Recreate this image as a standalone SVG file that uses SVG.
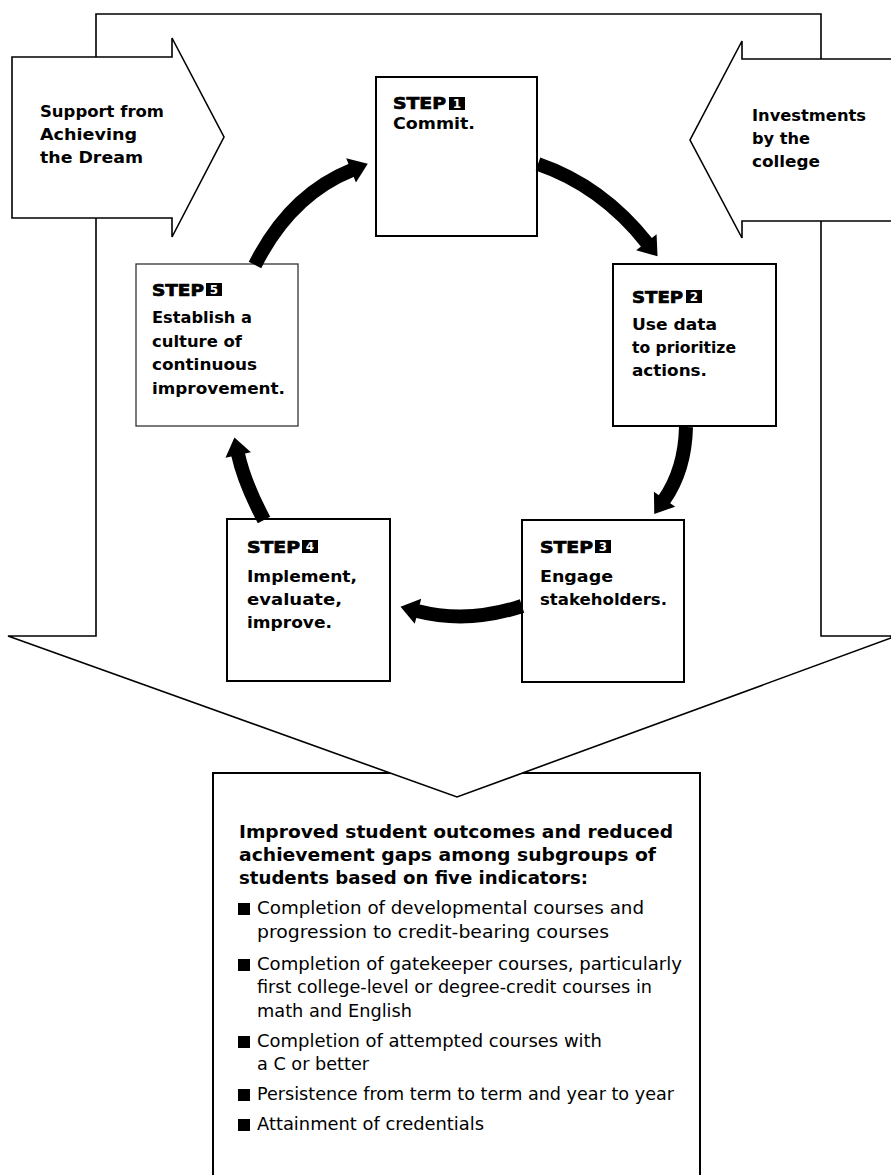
<svg xmlns="http://www.w3.org/2000/svg" width="891" height="1175" viewBox="0 0 891 1175">
<style>
.shape{fill:#fff;stroke:#000;stroke-width:1.6;stroke-linejoin:miter}
.box{fill:#fff;stroke:#000;stroke-width:2}
.box5{fill:#fff;stroke:#333;stroke-width:1.3}
.side{font-family:"DejaVu Sans",sans-serif;font-weight:bold;font-size:16px;fill:#000}
.step{font-family:"DejaVu Sans",sans-serif;font-weight:bold;font-size:16px;fill:#000;stroke:#000;stroke-width:0.7}
.num{font-family:"DejaVu Sans",sans-serif;font-weight:bold;font-size:12px;fill:#fff;text-anchor:middle}
.body{font-family:"DejaVu Sans",sans-serif;font-weight:bold;font-size:16px;fill:#000}
.head{font-family:"DejaVu Sans",sans-serif;font-weight:bold;font-size:18.5px;fill:#000}
.item{font-family:"DejaVu Sans",sans-serif;font-size:17px;fill:#000}
.conn{fill:none;stroke:#000;stroke-width:14;marker-end:url(#ah)}
</style>
<defs>
<marker id="ah" markerUnits="userSpaceOnUse" viewBox="0 0 18 26" markerWidth="18" markerHeight="26" refX="1" refY="13" orient="auto" overflow="visible">
<path d="M0,0 L18,13 L0,26 Z" fill="#000"/>
</marker>
</defs>
<rect width="891" height="1175" fill="#fff"/>

<g id="outcomes">
<rect class="box" x="213" y="773" width="487" height="420"/>
<text class="head" x="239" y="838" textLength="434" lengthAdjust="spacingAndGlyphs">Improved student outcomes and reduced</text>
<text class="head" x="239" y="861" textLength="417" lengthAdjust="spacingAndGlyphs">achievement gaps among subgroups of</text>
<text class="head" x="239" y="884" textLength="349" lengthAdjust="spacingAndGlyphs">students based on five indicators:</text>
<rect x="238" y="903" width="12" height="12"/>
<text class="item" x="257" y="914" textLength="387" lengthAdjust="spacingAndGlyphs">Completion of developmental courses and</text>
<text class="item" x="257" y="938" textLength="352" lengthAdjust="spacingAndGlyphs">progression to credit-bearing courses</text>
<rect x="238" y="959" width="12" height="12"/>
<text class="item" x="257" y="970" textLength="425" lengthAdjust="spacingAndGlyphs">Completion of gatekeeper courses, particularly</text>
<text class="item" x="257" y="993" textLength="395" lengthAdjust="spacingAndGlyphs">first college-level or degree-credit courses in</text>
<text class="item" x="257" y="1017" textLength="155" lengthAdjust="spacingAndGlyphs">math and English</text>
<rect x="238" y="1036" width="12" height="12"/>
<text class="item" x="257" y="1047" textLength="345" lengthAdjust="spacingAndGlyphs">Completion of attempted courses with</text>
<text class="item" x="257" y="1070" textLength="112" lengthAdjust="spacingAndGlyphs">a C or better</text>
<rect x="238" y="1089" width="12" height="12"/>
<text class="item" x="257" y="1100" textLength="417" lengthAdjust="spacingAndGlyphs">Persistence from term to term and year to year</text>
<rect x="238" y="1119" width="12" height="12"/>
<text class="item" x="257" y="1130" textLength="227" lengthAdjust="spacingAndGlyphs">Attainment of credentials</text>
</g>

<g id="frame-arrow">
<path class="shape" d="M96,636 L96,14 L821,14 L821,636 L891,636 L891,638 L457,797 L8,636 Z"/>
</g>

<g id="support-arrow">
<path class="shape" d="M12,57 L172,57 L172,38 L224,137 L172,237 L172,218 L12,218 Z"/>
<text class="side" x="40" y="117" textLength="124" lengthAdjust="spacingAndGlyphs">Support from</text>
<text class="side" x="40" y="140" textLength="97" lengthAdjust="spacingAndGlyphs">Achieving</text>
<text class="side" x="40" y="163" textLength="103" lengthAdjust="spacingAndGlyphs">the Dream</text>
</g>

<g id="investments-arrow">
<path class="shape" d="M892,59 L742,59 L742,41 L690,140 L742,238 L742,221 L892,221"/>
<text class="side" x="752" y="121" textLength="114" lengthAdjust="spacingAndGlyphs">Investments</text>
<text class="side" x="752" y="144" textLength="58" lengthAdjust="spacingAndGlyphs">by the</text>
<text class="side" x="752" y="167" textLength="68" lengthAdjust="spacingAndGlyphs">college</text>
</g>

<g id="step1">
<rect class="box" x="376" y="77" width="161" height="159"/>
<text class="step" x="393" y="109" textLength="53" lengthAdjust="spacingAndGlyphs">STEP</text>
<rect x="449" y="97" width="16" height="13"/>
<text class="num" x="457" y="108">1</text>
<text class="body" x="393" y="129" textLength="82" lengthAdjust="spacingAndGlyphs">Commit.</text>
</g>

<g id="step2">
<rect class="box" x="613" y="264" width="163" height="162"/>
<text class="step" x="632" y="303" textLength="51" lengthAdjust="spacingAndGlyphs">STEP</text>
<rect x="686" y="290" width="16" height="13"/>
<text class="num" x="694" y="301">2</text>
<text class="body" x="632" y="330" textLength="85" lengthAdjust="spacingAndGlyphs">Use data</text>
<text class="body" x="632" y="353" textLength="104" lengthAdjust="spacingAndGlyphs">to prioritize</text>
<text class="body" x="632" y="376" textLength="75" lengthAdjust="spacingAndGlyphs">actions.</text>
</g>

<g id="step3">
<rect class="box" x="522" y="520" width="162" height="162"/>
<text class="step" x="540" y="553" textLength="53" lengthAdjust="spacingAndGlyphs">STEP</text>
<rect x="595" y="540" width="16" height="13"/>
<text class="num" x="603" y="551">3</text>
<text class="body" x="540" y="582" textLength="73" lengthAdjust="spacingAndGlyphs">Engage</text>
<text class="body" x="540" y="605" textLength="127" lengthAdjust="spacingAndGlyphs">stakeholders.</text>
</g>

<g id="step4">
<rect class="box" x="227" y="519" width="163" height="162"/>
<text class="step" x="247" y="553" textLength="53" lengthAdjust="spacingAndGlyphs">STEP</text>
<rect x="302" y="540" width="16" height="13"/>
<text class="num" x="310" y="551">4</text>
<text class="body" x="247" y="582" textLength="110" lengthAdjust="spacingAndGlyphs">Implement,</text>
<text class="body" x="247" y="605" textLength="95" lengthAdjust="spacingAndGlyphs">evaluate,</text>
<text class="body" x="247" y="628" textLength="85" lengthAdjust="spacingAndGlyphs">improve.</text>
</g>

<g id="step5">
<rect class="box5" x="136" y="264" width="162" height="162"/>
<text class="step" x="152" y="296" textLength="52" lengthAdjust="spacingAndGlyphs">STEP</text>
<rect x="206" y="283" width="16" height="13"/>
<text class="num" x="214" y="294">5</text>
<text class="body" x="152" y="323" textLength="100" lengthAdjust="spacingAndGlyphs">Establish a</text>
<text class="body" x="152" y="347" textLength="90" lengthAdjust="spacingAndGlyphs">culture of</text>
<text class="body" x="152" y="370" textLength="105" lengthAdjust="spacingAndGlyphs">continuous</text>
<text class="body" x="152" y="394" textLength="133" lengthAdjust="spacingAndGlyphs">improvement.</text>
</g>

<g id="connectors">
<path class="conn" d="M538,164 Q602,186 647,243"/>
<path class="conn" d="M686,427 Q685,470 664,500"/>
<path class="conn" d="M522,606 Q468,624 417,611"/>
<path class="conn" d="M264,520 Q244,482 238,454"/>
<path class="conn" d="M255,265 Q290,195 352,170"/>
</g>
</svg>
